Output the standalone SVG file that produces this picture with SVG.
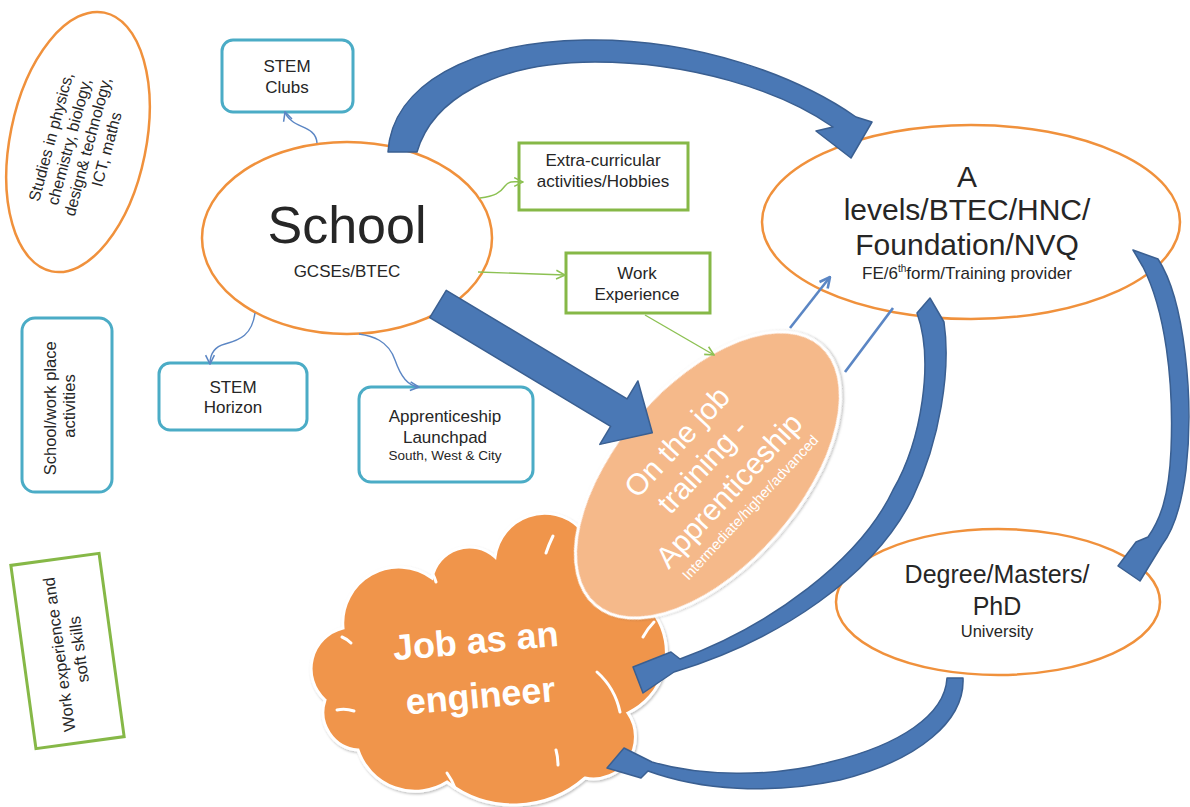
<svg xmlns="http://www.w3.org/2000/svg" width="1190" height="807" viewBox="0 0 1190 807">
<defs>
<style>
.t{font-family:"Liberation Sans",Arial,sans-serif;fill:#262626;text-anchor:middle}
.w{font-family:"Liberation Sans",Arial,sans-serif;fill:#ffffff;text-anchor:middle}
.oe{fill:#ffffff;stroke:#f0913c;stroke-width:2.5}
.bb{fill:#ffffff;stroke:#4bacc6;stroke-width:3}
.gb{fill:#ffffff;stroke:#86b847;stroke-width:3}
.ba{fill:#4a78b5;stroke:#3a5f91;stroke-width:1.5;stroke-linejoin:round}
.tb{fill:none;stroke:#5b86c4;stroke-width:1.4}
.tbw{fill:none;stroke:#5b86c4;stroke-width:2.6}
.tg{fill:none;stroke:#8cc152;stroke-width:1.4}
.ca{fill:none;stroke:#ffffff;stroke-width:3;stroke-linecap:round}
</style>
<marker id="mb" viewBox="0 0 10 10" refX="9" refY="5" markerWidth="11" markerHeight="11" markerUnits="userSpaceOnUse" orient="auto">
<path d="M1,1 L9,5 L1,9" fill="none" stroke="#5b86c4" stroke-width="1.4"/>
</marker>
<marker id="mbw" viewBox="0 0 10 10" refX="9" refY="5" markerWidth="13" markerHeight="13" markerUnits="userSpaceOnUse" orient="auto">
<path d="M1,1 L9,5 L1,9" fill="none" stroke="#5b86c4" stroke-width="2"/>
</marker>
<marker id="mg" viewBox="0 0 10 10" refX="9" refY="5" markerWidth="11" markerHeight="11" markerUnits="userSpaceOnUse" orient="auto">
<path d="M1,1 L9,5 L1,9" fill="none" stroke="#8cc152" stroke-width="1.4"/>
</marker>
<filter id="sh" x="-10%" y="-10%" width="120%" height="120%">
<feDropShadow dx="1" dy="1.5" stdDeviation="1.2" flood-color="#000000" flood-opacity="0.25"/>
</filter>
</defs>

<g id="studies">
<ellipse cx="78" cy="142" rx="68" ry="132" transform="rotate(11.5 78 142)" class="oe"/>
<text class="t" font-size="16" transform="translate(79,142) rotate(-75)">
<tspan x="0" y="-23">Studies in physics,</tspan>
<tspan x="0" y="-4">chemistry, biology,</tspan>
<tspan x="0" y="15">design&amp; technology,</tspan>
<tspan x="0" y="34">ICT, maths</tspan>
</text>
</g>

<g id="school-work">
<rect x="22" y="318" width="90" height="174" rx="13" class="bb"/>
<text class="t" font-size="16.5" transform="translate(67,406) rotate(-90)">
<tspan x="0" y="-11">School/work place</tspan>
<tspan x="0" y="8">activities</tspan>
</text>
</g>

<g id="work-soft" transform="rotate(-7.8 67.5 651)">
<rect x="23" y="558.5" width="89" height="185" class="gb"/>
<text class="t" font-size="16.5" transform="translate(67.5,651) rotate(-90)">
<tspan x="0" y="-3">Work experience and</tspan>
<tspan x="0" y="17">soft skills</tspan>
</text>
</g>

<g id="stem-clubs">
<rect x="222" y="40" width="131" height="72" rx="11" class="bb"/>
<text class="t" font-size="17" x="287" y="72">STEM</text>
<text class="t" font-size="17" x="287" y="93">Clubs</text>
</g>

<g id="school">
<ellipse cx="347" cy="238" rx="145" ry="96" class="oe"/>
<text class="t" font-size="52" x="347" y="243">School</text>
<text class="t" font-size="17" x="347" y="277">GCSEs/BTEC</text>
</g>

<g id="extra-curricular">
<rect x="519" y="143" width="169" height="67" class="gb"/>
<text class="t" font-size="17" x="603" y="166">Extra-curricular</text>
<text class="t" font-size="17" x="603" y="187">activities/Hobbies</text>
</g>

<g id="work-experience">
<rect x="566" y="253" width="144" height="60" class="gb"/>
<text class="t" font-size="17" x="637" y="279">Work</text>
<text class="t" font-size="17" x="637" y="300">Experience</text>
</g>

<g id="stem-horizon">
<rect x="159" y="363" width="148" height="67" rx="11" class="bb"/>
<text class="t" font-size="17" x="233" y="393">STEM</text>
<text class="t" font-size="17" x="233" y="413">Horizon</text>
</g>

<g id="launchpad">
<rect x="359" y="387" width="174" height="95" rx="12" class="bb"/>
<text class="t" font-size="17" x="445" y="422">Apprenticeship</text>
<text class="t" font-size="17" x="445" y="443">Launchpad</text>
<text class="t" font-size="13.5" x="445" y="460">South, West &amp; City</text>
</g>

<g id="a-levels">
<ellipse cx="971" cy="222" rx="209" ry="97" class="oe"/>
<text class="t" font-size="30" x="967" y="187">A</text>
<text class="t" font-size="30" x="967" y="220">levels/BTEC/HNC/</text>
<text class="t" font-size="30" x="967" y="255">Foundation/NVQ</text>
<text class="t" font-size="17" x="967" y="279">FE/6<tspan font-size="10" dy="-7">th</tspan><tspan dy="7">form/Training provider</tspan></text>
</g>

<g id="degree">
<ellipse cx="998" cy="602" rx="162" ry="73" class="oe"/>
<text class="t" font-size="25" x="997" y="583">Degree/Masters/</text>
<text class="t" font-size="25" x="997" y="615">PhD</text>
<text class="t" font-size="16.5" x="997" y="637">University</text>
</g>

<g id="job">
<path filter="url(#sh)" fill="#f0954b" stroke="#ffffff" stroke-width="3" d="M325,700 A42,42 0 0 1 343,628 A56,56 0 0 1 432,578 A38,38 0 0 1 495,557 A50,50 0 0 1 580,528 A65,65 0 0 1 655,615 A67,67 0 0 1 628,713 A42,42 0 0 1 585,778 A108,108 0 0 1 447,782 A60,60 0 0 1 358,750 A38,38 0 0 1 325,700 Z"/>
<path class="ca" d="M427,566 Q433,572 436,582"/>
<path class="ca" d="M546,553 Q549,544 553,536"/>
<path class="ca" d="M643,637 Q648,628 654,622"/>
<path class="ca" d="M597,672 Q615,688 620,712"/>
<path class="ca" d="M556,750 Q558,757 558,765"/>
<path class="ca" d="M447,773 Q452,780 455,788"/>
<path class="ca" d="M337,710 Q345,708 354,711"/>
<path class="ca" d="M342,637 Q347,639 351,643"/>
<g transform="translate(479,680) rotate(-5)">
<text class="w" font-family="'DejaVu Sans',sans-serif" font-weight="bold" font-size="36" x="0" y="-27">Job as an</text>
<text class="w" font-family="'DejaVu Sans',sans-serif" font-weight="bold" font-size="36" x="0" y="28">engineer</text>
</g>
</g>

<g id="apprenticeship">
<ellipse cx="708" cy="475" rx="172" ry="92" transform="rotate(-49 708 475)" fill="#f5b98a" stroke="#ffffff" stroke-width="3" filter="url(#sh)"/>
<g transform="translate(708,475) rotate(-47)">
<text class="w" font-size="30" x="3" y="-35">On the job</text>
<text class="w" font-size="30" x="3" y="0">training -</text>
<text class="w" font-size="30" x="3" y="36">Apprenticeship</text>
<text class="w" font-size="14.5" x="5" y="58">Intermediate/higher/advanced</text>
</g>
</g>

<g id="connectors">
<path class="tb" marker-end="url(#mb)" d="M317,143 C316,128 300,128 292,121 C288,118 286,115 285,112"/>
<path class="tb" marker-end="url(#mb)" d="M255,313 C252,335 240,340 225,344 C213,347 210,355 210,364"/>
<path class="tb" marker-end="url(#mb)" d="M359,334 C372,336 388,340 395,360 C401,377 408,386 419,387"/>
<path class="tg" marker-end="url(#mg)" d="M480,198 C495,196 500,193 505,186 C510,180 515,182 523,182"/>
<path class="tg" marker-end="url(#mg)" d="M478,272 C510,273 540,274 565,275"/>
<path class="tg" marker-end="url(#mg)" d="M645,315 L714,355"/>
<path class="tbw" marker-end="url(#mbw)" d="M790,328 L830,277"/>
<path class="tbw" d="M845,372 L893,308"/>
<path class="ba" transform="translate(438,304) rotate(31)" d="M0,-16 L211,-16 L211,-37 L250,0 L211,37 L211,16 L0,16 Z"/>
<path class="ba" d="M388,152 C392,85 470,42 585,40 C700,38 800,78 856,117 L872,122 L851,158 L816,131 L833,127 C780,90 690,62 595,62 C495,62 432,100 417,152 Z"/>
<path class="ba" d="M930,298 L944,322 C951,370 940,440 913,497 C875,575 780,640 674,672 L643,693 L633,667 L671,652 L680,659 C770,626 860,560 893,490 C922,440 934,360 917,313 Z"/>
<path class="ba" d="M1133,250 L1158,259 C1185,300 1194,400 1186,470 C1181,510 1172,532 1162,545 L1140,581 L1118,566 L1136,542 L1148,537 C1160,520 1169,497 1171,450 C1174,380 1165,310 1143,267 Z"/>
<path class="ba" d="M947,678 L963,678 C965,720 920,760 840,780 C770,795 700,790 648,771 L641,778 L607,768 L624,748 L652,762 C700,776 770,778 830,762 C900,745 945,715 947,678 Z"/>
</g>
</svg>
